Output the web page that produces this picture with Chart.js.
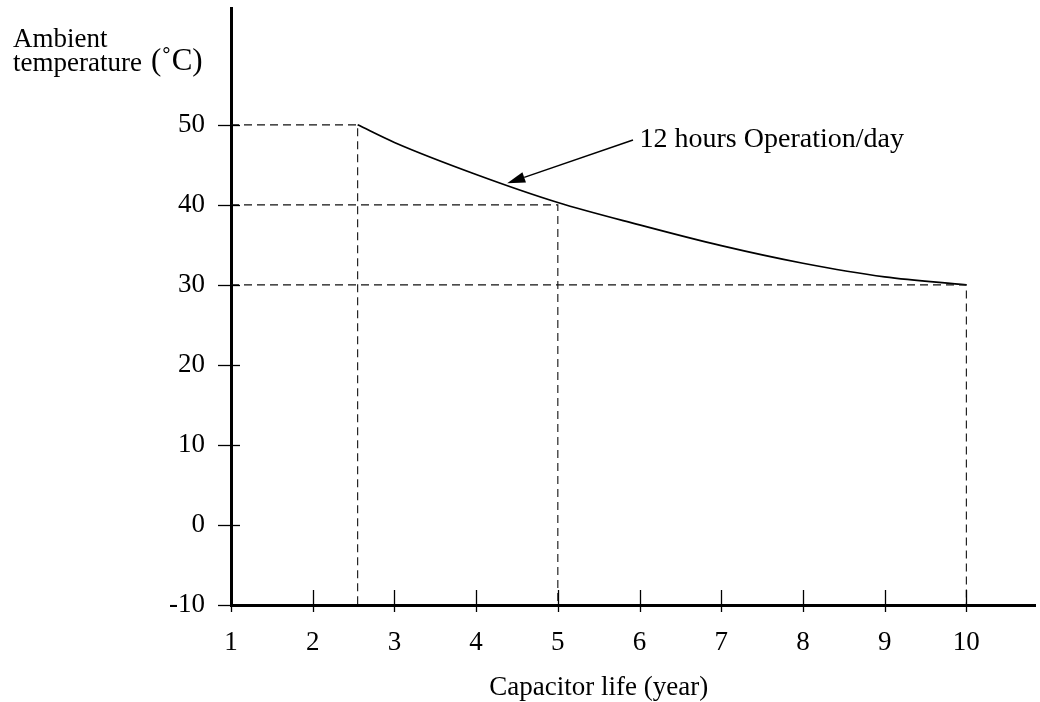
<!DOCTYPE html>
<html>
<head>
<meta charset="utf-8">
<script src="https://cdn.jsdelivr.net/npm/chart.js@4"></script>
<style>
  html, body { margin: 0; padding: 0; background: #ffffff; }
  canvas { display: block; }
</style>
</head>
<body>
<canvas id="lifeChart" width="1040" height="702"></canvas>
<script>
// Capacitor life vs. ambient temperature (12 h operation per day)
const lifeYears   = [2.55, 3, 4, 5, 6, 7, 8, 9, 10];
const ambientTemp = [50, 47.8, 43.8, 40.3, 37.5, 34.9, 32.7, 31.0, 30];

// Reference readings marked with dashed guides
const guideLife = [2.55, 5, 10];
const guideTemp = [50, 40, 30];

const xTickValues = [1, 2, 3, 4, 5, 6, 7, 8, 9, 10];
const yTickValues = [-10, 0, 10, 20, 30, 40, 50];

const curveLabel = '12 hours Operation/day';
const labelAt   = { x: 6.0, y: 48.1 };
const arrowTail = { x: 5.92, y: 48.1 };
const arrowHead = { x: 4.38, y: 42.7 };

const xTitle = 'Capacitor life (year)';
const yTitleLines = ['Ambient', 'temperature'];
const yTitleUnit = '(\u02DAC)';

const FONT = '"Liberation Serif", "Times New Roman", serif';
const X_MIN = 1, X_MAX = 10.84, Y_MIN = -10, Y_MAX = 64.6;

const curvePoints = lifeYears.map((x, i) => ({ x, y: ambientTemp[i] }));

const guideSets = guideLife.map((x, i) => ({
  type: 'line',
  data: [{ x: X_MIN, y: guideTemp[i] }, { x, y: guideTemp[i] }, { x, y: Y_MIN }],
  borderColor: '#111111',
  borderWidth: 1.1,
  borderDash: [8, 5],
  pointRadius: 0,
  tension: 0,
  fill: false
}));

const decorations = {
  id: 'decorations',
  afterDraw(chart) {
    const { ctx, scales: { x, y } } = chart;
    const axisX = x.getPixelForValue(X_MIN);
    const axisY = y.getPixelForValue(Y_MIN);
    ctx.save();
    ctx.strokeStyle = '#000';
    ctx.fillStyle = '#000';
    ctx.lineWidth = 1.3;

    // tick marks crossing the axes
    yTickValues.forEach(v => {
      const py = Math.round(y.getPixelForValue(v)) + 0.5;
      ctx.beginPath(); ctx.moveTo(axisX - 13, py); ctx.lineTo(axisX + 9, py); ctx.stroke();
    });
    xTickValues.forEach(v => {
      const px = Math.round(x.getPixelForValue(v)) + 0.5;
      ctx.beginPath(); ctx.moveTo(px, axisY - 15); ctx.lineTo(px, axisY + 7); ctx.stroke();
    });

    // callout arrow
    const tx = x.getPixelForValue(arrowTail.x), ty = y.getPixelForValue(arrowTail.y);
    const hx = x.getPixelForValue(arrowHead.x), hy = y.getPixelForValue(arrowHead.y);
    const ang = Math.atan2(hy - ty, hx - tx);
    const len = 18, half = 5.5;
    const bx = hx - len * Math.cos(ang), by = hy - len * Math.sin(ang);
    ctx.lineWidth = 1.5;
    ctx.beginPath(); ctx.moveTo(tx, ty); ctx.lineTo(bx, by); ctx.stroke();
    ctx.beginPath();
    ctx.moveTo(hx, hy);
    ctx.lineTo(bx + half * Math.sin(ang), by - half * Math.cos(ang));
    ctx.lineTo(bx - half * Math.sin(ang), by + half * Math.cos(ang));
    ctx.closePath(); ctx.fill();

    // callout text
    ctx.font = '28px ' + FONT;
    ctx.textAlign = 'left';
    ctx.textBaseline = 'middle';
    ctx.fillText(curveLabel, x.getPixelForValue(labelAt.x), y.getPixelForValue(labelAt.y));

    // axis titles
    ctx.font = '27px ' + FONT;
    ctx.textBaseline = 'alphabetic';
    ctx.textAlign = 'center';
    ctx.fillText(xTitle, x.getPixelForValue(5.5), 695);
    ctx.textAlign = 'left';
    ctx.fillText(yTitleLines[0], 13, 47);
    ctx.fillText(yTitleLines[1], 13, 71);
    ctx.font = '31px ' + FONT;
    ctx.fillText(yTitleUnit, 151, 70);
    ctx.restore();
  }
};

new Chart(document.getElementById('lifeChart'), {
  type: 'line',
  data: {
    datasets: [
      ...guideSets,
      {
        type: 'line',
        label: curveLabel,
        data: curvePoints,
        borderColor: '#000000',
        borderWidth: 1.7,
        pointRadius: 0,
        cubicInterpolationMode: 'monotone',
        fill: false
      }
    ]
  },
  options: {
    responsive: false,
    devicePixelRatio: 1,
    animation: false,
    layout: { padding: { left: 0, right: 5, top: 8, bottom: 0 } },
    plugins: { legend: { display: false }, tooltip: { enabled: false }, title: { display: false } },
    scales: {
      x: {
        type: 'linear',
        min: X_MIN,
        max: X_MAX,
        grid: { display: false },
        border: { display: true, width: 3, color: '#000' },
        afterBuildTicks: s => { s.ticks = xTickValues.map(v => ({ value: v })); },
        afterFit: s => { s.height = 97; s.paddingLeft = 0; s.paddingRight = 0; },
        ticks: { color: '#000', padding: 14, maxRotation: 0, autoSkip: false, font: { family: FONT, size: 27 } }
      },
      y: {
        type: 'linear',
        min: Y_MIN,
        max: Y_MAX,
        grid: { display: false },
        border: { display: true, width: 3, color: '#000' },
        afterBuildTicks: s => { s.ticks = yTickValues.map(v => ({ value: v })); },
        afterFit: s => { s.width = 231; s.paddingTop = 0; s.paddingBottom = 0; },
        ticks: { color: '#000', padding: 18, autoSkip: false, font: { family: FONT, size: 27 } }
      }
    }
  },
  plugins: [decorations]
});
</script>
</body>
</html>
